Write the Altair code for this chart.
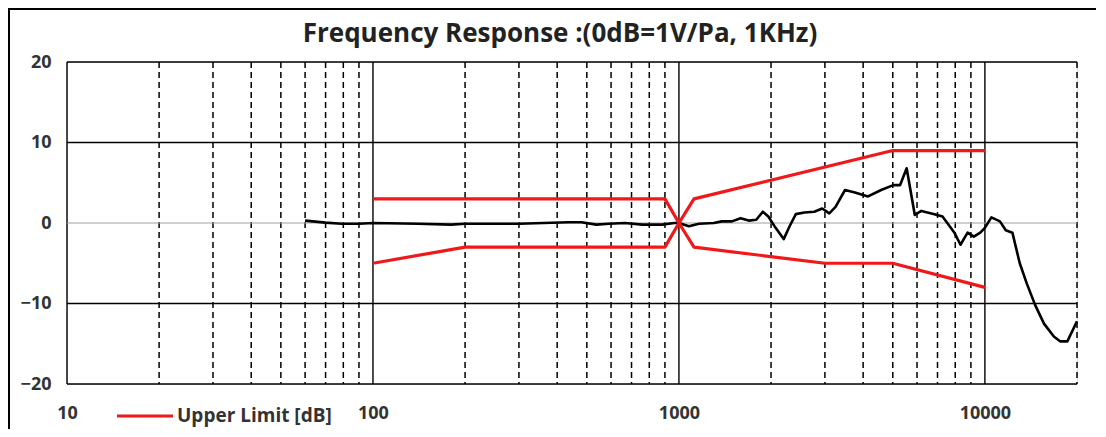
import altair as alt
import pandas as pd

# Measured response (Hz, dB)
resp_freq = [60, 70, 79, 90, 100, 140, 180, 200, 300, 435, 480, 537, 590, 665, 760, 880, 965,
             1000, 1078, 1162, 1300, 1380, 1490, 1590, 1690, 1790, 1880, 1960, 2070, 2200, 2300,
             2410, 2570, 2770, 2940, 3100, 3250, 3490, 3760, 4150, 4580, 5020, 5280, 5550, 5900,
             6200, 6840, 7270, 7950, 8320, 8780, 9200, 9660, 10000, 10500, 11200, 11700, 12300,
             13000, 13700, 14600, 15600, 16800, 17600, 18600, 20000]
resp_db = [0.3, 0.05, -0.1, -0.1, 0.0, -0.1, -0.2, -0.1, -0.1, 0.1, 0.1, -0.2, -0.1, 0.0, -0.2, -0.2, 0.0,
           0.0, -0.4, -0.1, 0.0, 0.2, 0.2, 0.6, 0.3, 0.4, 1.4, 0.8, -0.6, -2.0, -0.4,
           1.1, 1.3, 1.4, 1.8, 1.2, 2.0, 4.1, 3.8, 3.3, 4.1, 4.7, 4.7, 6.8, 1.0,
           1.5, 1.1, 0.8, -1.2, -2.7, -1.2, -1.7, -1.2, -0.6, 0.7, 0.2, -0.9, -1.2,
           -5.0, -7.5, -10.2, -12.5, -14.1, -14.7, -14.7, -12.2]

# Tolerance limits
upper_freq = [100, 900, 1000, 1120, 5000, 10000]
upper_db = [3, 3, 0, 3, 9, 9]
lower_freq = [100, 200, 900, 1000, 1120, 3000, 5000, 10000]
lower_db = [-5, -3, -3, 0, -3, -5, -5, -8]

# Grid
major_x = [10, 100, 1000, 10000]
minor_x = [20, 30, 40, 50, 60, 70, 80, 90,
           200, 300, 400, 500, 600, 700, 800, 900,
           2000, 3000, 4000, 5000, 6000, 7000, 8000, 9000, 20000]
major_y = [-20, -10, 10, 20]
zero_y = [0]
x_labels = [10, 100, 1000, 10000]
y_labels = [-20, -10, 0, 10, 20]

FONT = "Open Sans"
RED = "#f01818"

xs = alt.Scale(type="log", domain=[10, 20000], nice=False)
ys = alt.Scale(domain=[-20, 20], nice=False)

XAX = alt.Axis(values=x_labels, format="d", title=None, grid=False, domain=False, ticks=False,
               labelPadding=20, labelFontSize=18, labelFontWeight="bold", labelFont=FONT,
               labelColor="#333333", labelFlush=False)
YAX = alt.Axis(values=y_labels, title=None, grid=False, domain=False, ticks=False,
               labelPadding=16, labelFontSize=18, labelFontWeight="bold", labelFont=FONT,
               labelColor="#333333")

resp = pd.DataFrame({"f": resp_freq, "db": resp_db})
up = pd.DataFrame({"f": upper_freq, "db": upper_db, "s": ["Upper Limit [dB]"] * len(upper_freq)})
lo = pd.DataFrame({"f": lower_freq, "db": lower_db})

minor = alt.Chart(pd.DataFrame({"f": minor_x})).mark_rule(
    color="black", strokeWidth=1.5, strokeDash=[6, 4]
).encode(x=alt.X("f:Q", scale=xs, axis=XAX))

major = alt.Chart(pd.DataFrame({"f": major_x})).mark_rule(
    color="black", strokeWidth=1.4
).encode(x=alt.X("f:Q", scale=xs, axis=XAX))

hgrid = alt.Chart(pd.DataFrame({"db": major_y})).mark_rule(
    color="black", strokeWidth=1.4
).encode(y=alt.Y("db:Q", scale=ys, axis=YAX))

zero = alt.Chart(pd.DataFrame({"db": zero_y})).mark_rule(
    color="#a0a0a0", strokeWidth=1
).encode(y=alt.Y("db:Q", scale=ys, axis=YAX))

# outer chart frame (only its top and left edges fall inside the window)
frame_top = alt.Chart(pd.DataFrame({"a": [0]})).mark_rule(
    color="black", strokeWidth=2
).encode(x=alt.value(-59), x2=alt.value(1035), y=alt.value(-53))
frame_left = alt.Chart(pd.DataFrame({"a": [0]})).mark_rule(
    color="black", strokeWidth=2
).encode(x=alt.value(-58), y=alt.value(-54), y2=alt.value(370))

resp_line = alt.Chart(resp).mark_line(
    color="black", strokeWidth=2.6, strokeJoin="round"
).encode(
    x=alt.X("f:Q", scale=xs, axis=XAX),
    y=alt.Y("db:Q", scale=ys, axis=YAX),
    order="f:Q",
)

up_line = alt.Chart(up).mark_line(strokeWidth=3.2, strokeJoin="round").encode(
    x=alt.X("f:Q", scale=xs, axis=XAX),
    y=alt.Y("db:Q", scale=ys, axis=YAX),
    color=alt.Color("s:N", scale=alt.Scale(domain=["Upper Limit [dB]"], range=[RED]),
                    legend=alt.Legend(title=None, orient="none", legendX=48, legendY=324,
                                      symbolType="stroke", symbolSize=3136, symbolStrokeWidth=3.2,
                                      labelFont=FONT, labelFontSize=19, labelFontWeight="bold",
                                      labelColor="#333333", labelOffset=2, padding=0)),
    order="f:Q",
)

lo_line = alt.Chart(lo).mark_line(color=RED, strokeWidth=3.2, strokeJoin="round").encode(
    x=alt.X("f:Q", scale=xs, axis=XAX),
    y=alt.Y("db:Q", scale=ys, axis=YAX),
    order="f:Q",
)

chart = alt.layer(frame_top, frame_left, minor, major, hgrid, zero, resp_line, up_line, lo_line).properties(
    width=1010, height=322,
    title=alt.TitleParams("Frequency Response :(0dB=1V/Pa, 1KHz)", font=FONT, fontSize=26,
                          fontWeight="bold", color="#222222", offset=-40, anchor="middle",
                          frame="group", dx=-12),
    autosize=alt.AutoSizeParams(type="none"),
    padding={"left": 59, "top": 54, "right": 19, "bottom": 45},
).configure_view(stroke=None).configure(background="white")

chart.save("out.html", embed_options={"renderer": "svg", "actions": False})
